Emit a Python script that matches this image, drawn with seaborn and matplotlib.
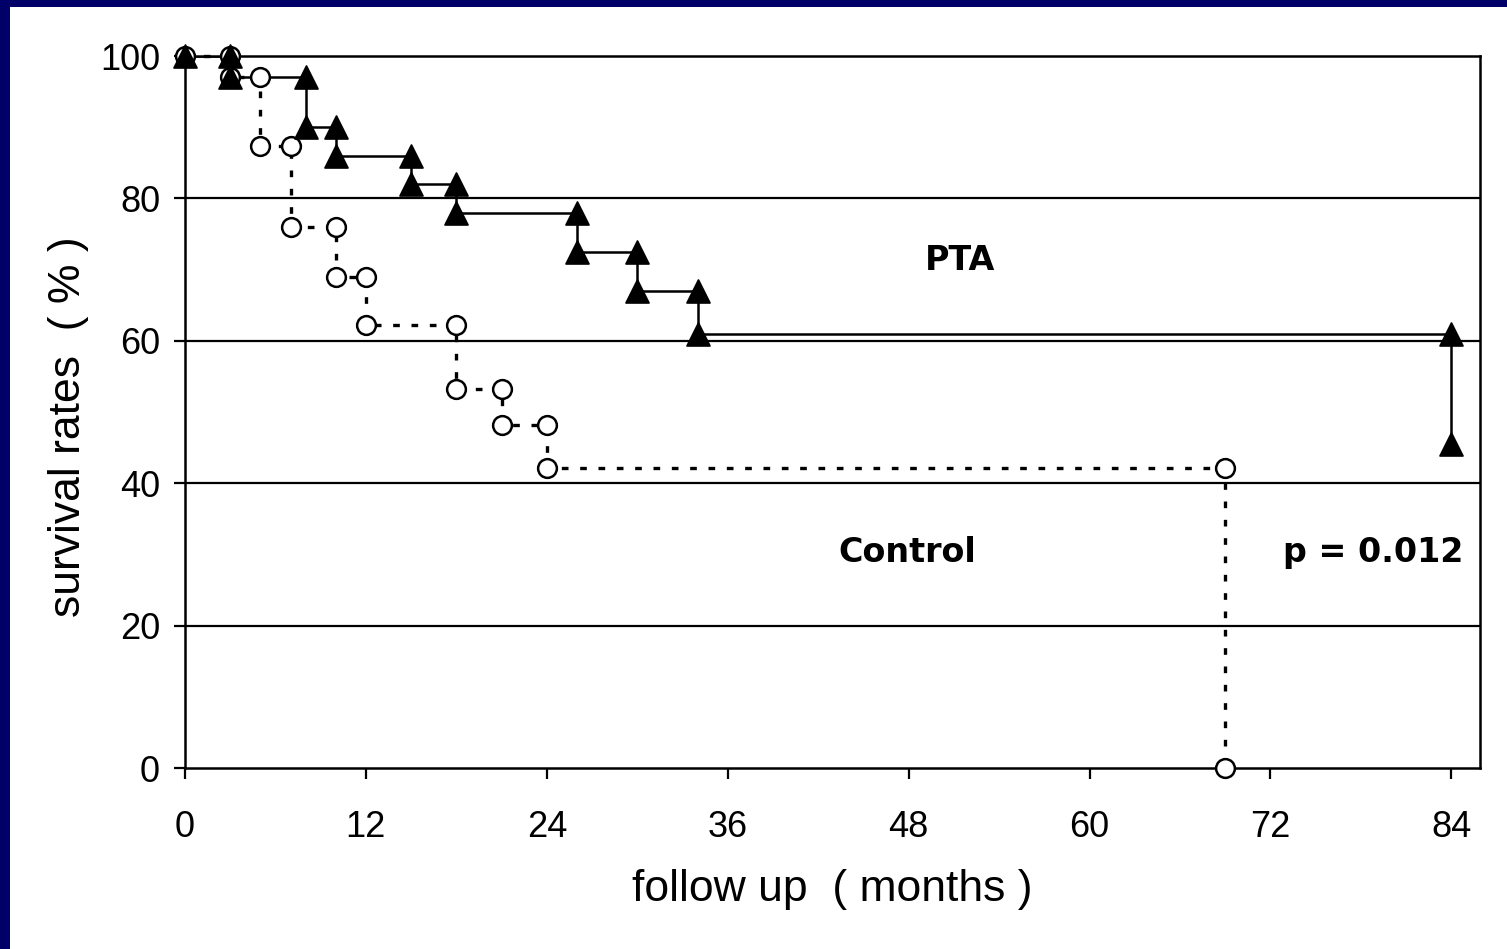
import matplotlib
matplotlib.use("Agg")
import matplotlib.pyplot as plt
import seaborn as sns
import numpy as np
from matplotlib.patches import Rectangle

# Kaplan-Meier values (months, survival %)
pta_times = [0, 3, 8, 10, 15, 18, 26, 30, 34, 84]
pta_surv = [100, 97, 90, 86, 82, 78, 72.5, 67, 61, 45.5]

ctrl_times = [0, 3, 5, 7, 10, 12, 18, 21, 24, 69]
ctrl_surv = [100, 97, 87.3, 76, 69, 62.2, 53.2, 48.2, 42.2, 0]

x_ticks = [0, 12, 24, 36, 48, 60, 72, 84]
y_ticks = [0, 20, 40, 60, 80, 100]


def step_points(times, surv):
    # corner points of the step curve: value before and after each drop
    xs, ys = [times[0]], [surv[0]]
    for i in range(1, len(times)):
        xs += [times[i], times[i]]
        ys += [surv[i - 1], surv[i]]
    return np.array(xs), np.array(ys)


sns.set_style("white")
plt.rcParams["font.family"] = ["Liberation Sans", "DejaVu Sans"]
plt.rcParams["text.color"] = "black"
plt.rcParams["axes.labelcolor"] = "black"

fig = plt.figure(figsize=(15.07, 9.49), dpi=100)
fig.patch.set_facecolor("#000068")
fig.add_artist(Rectangle((10 / 1507, 0), 1, 1 - 7 / 949, transform=fig.transFigure,
                         facecolor="white", edgecolor="none", zorder=-5))
ax = fig.add_axes([185 / 1507, 1 - 768 / 949, 1295 / 1507, 712 / 949])
ax.set_facecolor("white")

px, py = step_points(pta_times, pta_surv)
cx, cy = step_points(ctrl_times, ctrl_surv)

# PTA line below the control circles, triangles on top of everything
sns.lineplot(x=px, y=py, sort=False, estimator=None, color="black", lw=1.8,
             ax=ax, zorder=3)
sns.lineplot(x=cx, y=cy, sort=False, estimator=None, color="black", lw=2.4,
             linestyle=(0, (2, 3.5)), marker="o", markersize=13.5,
             markerfacecolor="white", markeredgecolor="black", markeredgewidth=1.8,
             ax=ax, zorder=4, clip_on=False)
sns.scatterplot(x=px, y=py, marker="^", s=270, color="black", edgecolor="black",
                ax=ax, zorder=5, clip_on=False)

for y in y_ticks[1:-1]:
    ax.axhline(y, color="black", lw=1.6, zorder=1)

ax.set_xlim(0, 85.9)
ax.set_ylim(0, 100)
ax.set_xticks(x_ticks)
ax.set_yticks(y_ticks)
ax.tick_params(axis="both", direction="out", length=8, width=1.6, color="black",
               labelsize=26, labelcolor="black", bottom=True, left=True)
ax.tick_params(axis="x", pad=22)
ax.tick_params(axis="y", pad=10)
for s in ax.spines.values():
    s.set_color("black")
    s.set_linewidth(1.8)

ax.set_xlabel("follow up  ( months )", fontsize=32, color="black")
ax.set_ylabel("survival rates  ( % )", fontsize=32, color="black")
ax.xaxis.set_label_coords(0.4996, -0.142)
ax.yaxis.set_label_coords(-0.074, 0.479)

ax.text(51.4, 71.3, "PTA", fontsize=24, fontweight="bold", family="DejaVu Sans",
        ha="center", va="center", color="black")
ax.text(47.9, 30.3, "Control", fontsize=24, fontweight="bold", family="DejaVu Sans",
        ha="center", va="center", color="black")
ax.text(78.8, 30.3, "p = 0.012", fontsize=24, fontweight="bold", family="DejaVu Sans",
        ha="center", va="center", color="black")

fig.savefig("out.png", dpi=100, facecolor=fig.get_facecolor())
